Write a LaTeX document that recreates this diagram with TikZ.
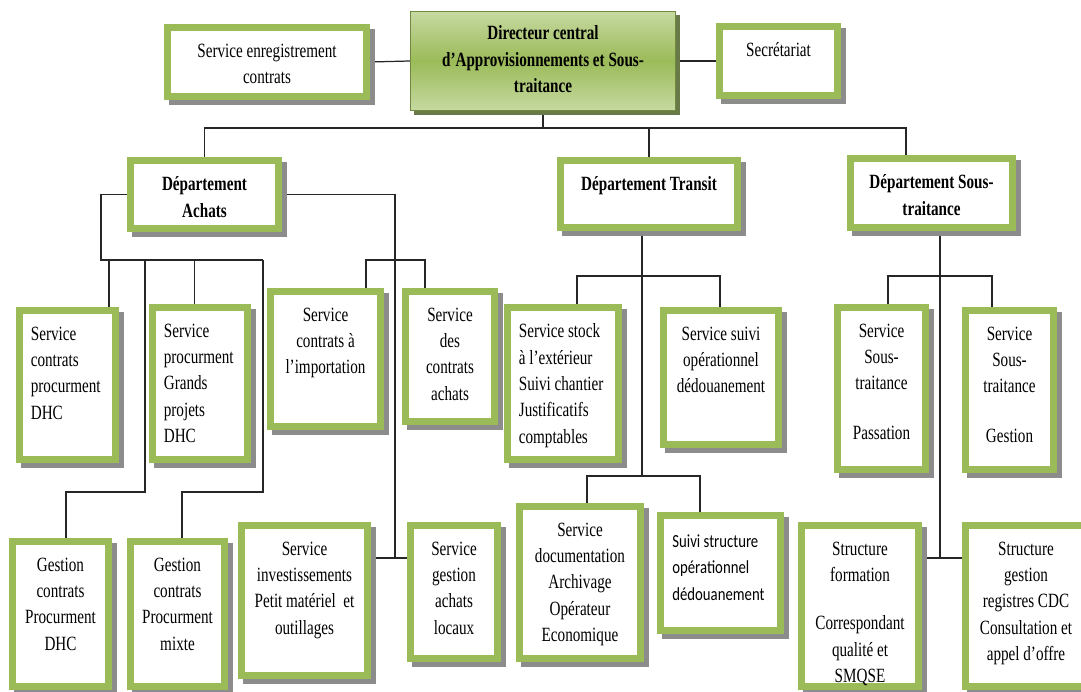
\documentclass[tikz,border=0pt]{standalone}
\usepackage{fontspec}
\setmainfont[FakeStretch=0.75]{Liberation Serif}
\newfontfamily\calfont[FakeStretch=0.8]{Carlito}
\usepackage{tikz}
\usetikzlibrary{positioning,fit}

\definecolor{boxgreen}{HTML}{9BBB59}
\definecolor{dirlight}{HTML}{C6D9A1}
\definecolor{dirline}{HTML}{71893F}
\definecolor{dirshadow}{HTML}{4F6228}
\definecolor{boxshadow}{HTML}{8C8C8C}

\pgfdeclarelayer{bg}
\pgfsetlayers{bg,main}

\tikzset{
  svcbox/.style={draw=boxgreen, line width=3pt, fill=white, inner sep=-1.5pt},
  innerline/.style={draw=boxgreen, line width=0.9pt},
  dirbox/.style={draw=dirline, line width=0.8pt, top color=dirlight, bottom color=dirlight, middle color=boxgreen, inner sep=-0.4pt},
  lbl/.style={inner sep=0pt, align=center, font=\fontsize{11.5pt}{15pt}\selectfont},
  lblb/.style={lbl, font=\fontsize{11.5pt}{15pt}\selectfont\bfseries},
  lbll/.style={lbl, align=left},
  conn/.style={draw=black!85, line width=0.7pt},
}

% box with shadow, thick green frame and thin inner line
\newcommand\orgbox[5]{%
  \fill[boxshadow] (#2+5,#3+5) rectangle (#4+5,#5+5);
  \node[svcbox, fit={(#2,#3) (#4,#5)}] (#1) {};
  \draw[innerline] ([shift={(6,6)}]#1.north west) rectangle ([shift={(-6,-6)}]#1.south east);
}

\begin{document}
\begin{tikzpicture}[x=0.02cm, y=-0.02cm, node distance=0.39cm]
\useasboundingbox (0,0) rectangle (1081,692);
\clip (0,0) rectangle (1081,692);

% top row
\fill[dirshadow!85] (414,15) rectangle (680,115);
\node[dirbox, fit={(410,11) (676,111)}] (dir) {};
\node[lblb, below=0.29cm of dir.north] (dir-t) {Directeur central\\ d’Approvisionnements et Sous-\\ traitance};
\orgbox{sec}{164}{24}{370}{100}
\node[lbl, below=of sec.north] (sec-t) {Service enregistrement\\ contrats};
\orgbox{secr}{716}{23}{841}{99}
\node[lbl, below=of secr.north] (secr-t) {Secrétariat};

% departments
\orgbox{achats}{127}{157}{282}{232}
\node[lblb, below=of achats.north] (achats-t) {Département\\ Achats};
\orgbox{transit}{557}{157}{741}{231}
\node[lblb, below=of transit.north] (transit-t) {Département Transit};
\orgbox{st}{847}{155}{1016}{231}
\node[lblb, below=of st.north] (st-t) {Département Sous-\\ traitance};

% services
\orgbox{scp}{16}{307}{119}{463}
\node[lbll, below right=0.39cm and 0.29cm of scp.north west] (scp-t) {Service\\ contrats\\ procurment\\ DHC};
\orgbox{spgp}{149}{304}{251}{463}
\node[lbll, below right=0.39cm and 0.29cm of spgp.north west] (spgp-t) {Service\\ procurment\\ Grands\\ projets\\ DHC};
\orgbox{sci}{267}{288}{384}{430}
\node[lbl, below=of sci.north] (sci-t) {Service\\ contrats à\\ l’importation};
\orgbox{sdca}{402}{288}{498}{425}
\node[lbl, below=of sdca.north] (sdca-t) {Service\\ des\\ contrats\\ achats};
\orgbox{stock}{504}{304}{622}{463}
\node[lbll, below right=0.39cm and 0.29cm of stock.north west] (stock-t) {Service stock\\ à l’extérieur\\ Suivi chantier\\ Justificatifs\\ comptables};
\orgbox{suivi}{660}{307}{782}{448}
\node[lbl, below=of suivi.north] (suivi-t) {Service suivi\\ opérationnel\\ dédouanement};
\orgbox{pass}{834}{304}{929}{473}
\node[lbl, below=of pass.north] (pass-t) {Service\\ Sous-\\ traitance\\[13pt] Passation};
\orgbox{gest}{962}{307}{1057}{473}
\node[lbl, below=of gest.north] (gest-t) {Service\\ Sous-\\ traitance\\[13pt] Gestion};

% bottom row
\orgbox{gdhc}{9}{538}{112}{690}
\node[lbl, below=of gdhc.north] (gdhc-t) {Gestion\\ contrats\\ Procurment\\ DHC};
\orgbox{gmix}{127}{538}{228}{690}
\node[lbl, below=of gmix.north] (gmix-t) {Gestion\\ contrats\\ Procurment\\ mixte};
\orgbox{si}{238}{522}{371}{679}
\node[lbl, below=of si.north] (si-t) {Service\\ investissements\\ Petit matériel\ \ et\\ outillages};
\orgbox{sgal}{407}{522}{501}{662}
\node[lbl, below=of sgal.north] (sgal-t) {Service\\ gestion\\ achats\\ locaux};
\orgbox{doc}{516}{503}{644}{662}
\node[lbl, below=of doc.north] (doc-t) {Service\\ documentation\\ Archivage\\ Opérateur\\ Economique};
\orgbox{sstr}{657}{512}{784}{634}
\node[lbll, font=\calfont\fontsize{10.5pt}{15.2pt}\selectfont, below right=0.44cm and 0.3cm of sstr.north west] (sstr-t) {Suivi structure\\ opérationnel\\ dédouanement};
\orgbox{sform}{798}{522}{922}{690}
\node[lbl, below=of sform.north] (sform-t) {Structure\\ formation\\[12.5pt] Correspondant\\ qualité et\\ SMQSE};
\orgbox{sgreg}{962}{522}{1090}{690}
\node[lbl, below=of sgreg.north] (sgreg-t) {Structure\\ gestion\\ registres CDC\\ Consultation et\\ appel d’offre};

% connectors
\begin{pgfonlayer}{bg}
\coordinate (topbar) at (543,128);
\draw[conn] (sec.east) -- (dir.west);
\draw[conn] (dir.east) -- (secr.west);
\draw[conn] (dir.south) -- (topbar);
\draw[conn] (achats.north) |- (topbar) -| (st.north -| 906,0);
\draw[conn] (transit.north) -- (transit.north |- topbar);

\coordinate (achbar) at (101,260);
\coordinate (achbar-e) at (263,260);
\coordinate (achR) at (395,558);
\draw[conn] (achats.west) -| (achbar) -- (achbar-e);
\draw[conn] (achbar -| 109,0) -- (scp.north -| 109,0);
\draw[conn] (achbar -| 194.5,0) -- (spgp.north -| 194.5,0);
\draw[conn] (achbar -| 145,0) -- (145,492) -| (gdhc.north -| 66,0);
\draw[conn] (achbar-e) -- (263,492) -| (gmix.north -| 182,0);
\draw[conn] (achats.east) -| (achR);
\draw[conn] (si.east |- achR) -- (sgal.west |- achR);
\draw[conn] (sci.north -| 366,0) -- (366,260) -| (sdca.north -| 425,0);

\coordinate (trbar) at (642,476);
\draw[conn] (transit.south -| 642,0) -- (trbar);
\draw[conn] (stock.north -| 577,0) -- (577,276) -| (suivi.north -| 720,0);
\draw[conn] (doc.north -| 587,0) -- (587,476) -| (sstr.north -| 700,0);

\coordinate (stR) at (940,558);
\draw[conn] (st.south -| 940,0) -- (stR);
\draw[conn] (sform.east |- stR) -- (sgreg.west |- stR);
\draw[conn] (pass.north -| 888,0) -- (888,276) -| (gest.north -| 992,0);
\end{pgfonlayer}
\end{tikzpicture}
\end{document}
